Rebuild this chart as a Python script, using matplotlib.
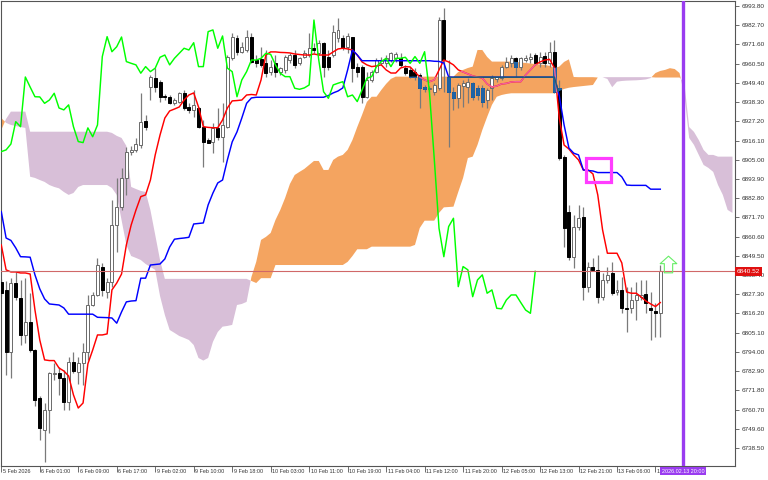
import numpy as np
import matplotlib
matplotlib.use("Agg")
import matplotlib.pyplot as plt
from matplotlib.patches import Rectangle
from matplotlib.path import Path

# ---------------- data (US500 H1, Ichimoku) ----------------
opens = [6834.6, 6829.8, 6794.0, 6834.0, 6825.2, 6803.8, 6811.5, 6795.1, 6767.4, 6748.9,
         6760.5, 6781.3, 6782.0, 6778.8, 6765.3, 6788.2, 6782.6, 6787.6, 6794.2, 6821.1,
         6826.9, 6843.3, 6828.8, 6834.6, 6867.3, 6877.9, 6894.5, 6909.7, 6910.7, 6913.6,
         6927.4, 6947.0, 6952.2, 6949.9, 6941.9, 6941.3, 6937.6, 6938.6, 6943.4, 6935.7,
         6933.8, 6934.9, 6924.1, 6916.4, 6915.5, 6923.4, 6918.3, 6924.1, 6963.6, 6975.2,
         6967.4, 6968.4, 6976.1, 6962.6, 6963.0, 6961.1, 6955.7, 6961.1, 6955.9, 6956.9,
         6962.6, 6965.5, 6960.7, 6964.6, 6965.5, 6969.4, 6966.9, 6972.6, 6964.6, 6965.5,
         6975.2, 6975.2, 6970.3, 6975.8, 6958.8, 6958.8, 6941.4, 6951.1, 6955.9, 6960.7,
         6960.7, 6962.6, 6963.6, 6963.6, 6957.9, 6956.9, 6955.9, 6954.0, 6946.9, 6945.9,
         6944.3, 6946.3, 6985.7, 6953.0, 6944.3, 6940.5, 6947.6, 6947.2, 6949.2, 6946.6,
         6946.3, 6939.5, 6946.3, 6951.7, 6952.1, 6958.8, 6960.7, 6963.6, 6958.8, 6962.6,
         6963.0, 6965.5, 6960.7, 6965.0, 6960.7, 6967.4, 6946.5, 6906.8, 6875.0, 6849.0,
         6866.4, 6872.1, 6831.7, 6843.3, 6841.4, 6825.9, 6835.6, 6839.4, 6828.8, 6829.8,
         6819.2, 6819.2, 6824.0, 6825.8, 6827.5, 6819.2, 6817.8, 6816.3]
highs = [6836.2, 6835.0, 6836.7, 6840.4, 6835.6, 6836.7, 6828.1, 6795.7, 6768.6, 6764.5,
         6782.6, 6787.6, 6785.5, 6783.6, 6791.3, 6794.0, 6791.3, 6799.2, 6826.9, 6828.8,
         6848.3, 6845.4, 6836.7, 6881.8, 6894.5, 6900.3, 6912.6, 6913.0, 6917.6, 6943.4,
         6930.9, 6954.0, 6958.0, 6951.1, 6943.0, 6942.4, 6940.7, 6944.3, 6945.3, 6937.6,
         6945.3, 6935.7, 6928.0, 6917.4, 6926.1, 6934.7, 6937.6, 6965.5, 6978.1, 6977.1,
         6973.2, 6980.0, 6978.1, 6965.5, 6970.3, 6968.4, 6962.6, 6965.5, 6958.8, 6965.5,
         6966.5, 6968.4, 6964.6, 6968.4, 6978.1, 6972.3, 6974.2, 6973.2, 6968.4, 6982.9,
         6986.7, 6977.1, 6978.1, 6976.1, 6960.7, 6959.8, 6955.9, 6956.9, 6963.6, 6964.6,
         6965.5, 6967.4, 6967.4, 6966.5, 6959.8, 6958.8, 6957.9, 6955.0, 6948.2, 6947.6,
         6949.2, 6987.7, 6992.5, 6962.6, 6947.2, 6949.2, 6951.1, 6952.1, 6950.1, 6948.2,
         6948.2, 6946.3, 6954.0, 6953.0, 6959.8, 6964.6, 6965.5, 6964.6, 6964.6, 6965.5,
         6966.5, 6966.5, 6967.3, 6967.4, 6973.2, 6974.2, 6951.1, 6907.8, 6878.9, 6873.1,
         6878.9, 6877.9, 6846.1, 6848.1, 6850.0, 6839.4, 6843.3, 6846.1, 6835.6, 6837.5,
         6831.7, 6831.7, 6834.6, 6835.6, 6835.6, 6828.8, 6822.1, 6844.2]
lows = [6826.3, 6780.7, 6779.0, 6824.0, 6798.0, 6799.2, 6794.0, 6762.8, 6743.2, 6730.5,
        6747.2, 6777.8, 6769.2, 6760.5, 6760.5, 6781.9, 6775.5, 6774.9, 6789.4, 6820.6,
        6826.3, 6826.3, 6825.2, 6831.5, 6851.9, 6876.0, 6884.7, 6907.8, 6909.5, 6911.8,
        6922.2, 6939.5, 6944.2, 6938.4, 6939.5, 6937.2, 6936.7, 6937.6, 6933.8, 6931.9,
        6929.9, 6923.4, 6901.0, 6914.5, 6908.8, 6916.4, 6903.9, 6923.4, 6962.6, 6965.5,
        6966.5, 6967.3, 6960.7, 6958.8, 6958.8, 6953.0, 6954.0, 6953.0, 6954.0, 6955.0,
        6960.7, 6957.9, 6959.8, 6963.6, 6964.6, 6966.5, 6965.5, 6953.0, 6956.9, 6964.6,
        6973.2, 6968.4, 6966.5, 6950.1, 6953.0, 6937.6, 6940.5, 6950.1, 6955.0, 6959.8,
        6958.8, 6961.7, 6961.7, 6958.8, 6954.0, 6952.1, 6951.1, 6934.7, 6944.3, 6944.2,
        6942.4, 6945.3, 6944.3, 6912.6, 6933.8, 6934.7, 6935.7, 6937.6, 6939.5, 6939.5,
        6935.7, 6934.7, 6939.5, 6949.9, 6951.1, 6957.9, 6958.8, 6953.0, 6956.9, 6961.5,
        6960.7, 6959.8, 6958.8, 6958.8, 6958.8, 6943.4, 6904.9, 6854.8, 6847.1, 6842.3,
        6864.5, 6824.0, 6828.8, 6840.8, 6822.1, 6824.0, 6833.8, 6826.9, 6826.9, 6816.3,
        6805.7, 6816.5, 6812.5, 6824.0, 6816.3, 6800.9, 6802.8, 6802.8]
closes = [6827.9, 6794.0, 6833.8, 6825.9, 6803.8, 6811.5, 6795.1, 6766.3, 6750.1, 6760.5,
          6781.9, 6782.0, 6778.8, 6765.3, 6788.4, 6783.0, 6787.6, 6794.2, 6821.1, 6826.9,
          6844.2, 6829.8, 6834.6, 6867.3, 6877.9, 6894.5, 6909.7, 6910.7, 6914.1, 6927.0,
          6924.1, 6952.8, 6947.0, 6941.4, 6941.3, 6937.6, 6939.5, 6943.4, 6934.9, 6933.8,
          6936.7, 6924.1, 6915.5, 6914.9, 6923.4, 6918.3, 6925.1, 6964.6, 6976.1, 6967.4,
          6970.3, 6975.9, 6961.7, 6960.7, 6959.8, 6955.0, 6958.8, 6955.9, 6957.9, 6964.2,
          6965.5, 6959.8, 6963.6, 6966.5, 6969.4, 6968.4, 6972.6, 6958.8, 6958.8, 6979.0,
          6980.0, 6969.4, 6976.5, 6957.9, 6955.9, 6941.4, 6951.1, 6955.9, 6962.6, 6962.6,
          6963.6, 6966.5, 6965.9, 6959.8, 6955.0, 6953.0, 6953.0, 6946.3, 6945.7, 6946.5,
          6948.2, 6985.7, 6962.6, 6944.3, 6940.5, 6948.2, 6949.2, 6950.1, 6941.4, 6942.4,
          6938.6, 6945.3, 6952.1, 6953.0, 6958.8, 6961.7, 6963.6, 6958.8, 6963.6, 6963.6,
          6964.2, 6960.7, 6964.6, 6960.7, 6967.4, 6944.3, 6905.9, 6865.4, 6849.0, 6866.4,
          6871.2, 6831.7, 6843.3, 6841.4, 6825.9, 6835.6, 6838.5, 6827.9, 6829.8, 6819.2,
          6818.9, 6824.0, 6826.9, 6826.9, 6822.5, 6818.2, 6816.3, 6840.52]

tenkan = [6855.8, 6841.4, 6840.2, 6840.2, 6839.6, 6839.6, 6839.0, 6818.2, 6800.9, 6789.4,
          6789.0, 6789.0, 6784.7, 6783.0, 6780.1, 6769.2, 6761.6, 6764.5, 6787.1, 6795.1,
          6803.8, 6803.8, 6804.4, 6829.8, 6833.8, 6839.0, 6855.8, 6867.3, 6876.0, 6883.7,
          6884.7, 6893.3, 6907.8, 6919.3, 6929.1, 6933.2, 6934.3, 6935.5, 6939.5, 6942.4,
          6943.6, 6935.5, 6924.1, 6923.7, 6923.5, 6923.5, 6928.0, 6934.9, 6939.0, 6939.2,
          6939.5, 6942.4, 6942.7, 6942.4, 6951.1, 6965.5, 6967.3, 6967.3, 6967.0, 6966.9,
          6966.7, 6966.1, 6965.8, 6965.5, 6965.5, 6966.1, 6965.5, 6965.5, 6965.5, 6967.3,
          6969.0, 6969.4, 6969.0, 6968.4, 6965.5, 6961.5, 6959.8, 6958.8, 6959.2, 6959.8,
          6956.9, 6955.1, 6955.1, 6958.0, 6958.8, 6958.6, 6955.7, 6952.8, 6951.1, 6950.1,
          6951.1, 6956.9, 6962.6, 6961.5, 6959.8, 6956.9, 6955.7, 6954.6, 6953.4, 6952.8,
          6952.2, 6948.8, 6947.0, 6947.6, 6948.8, 6949.1, 6949.9, 6950.1, 6950.1, 6954.0,
          6956.9, 6959.8, 6961.5, 6962.6, 6963.0, 6958.0, 6929.1, 6913.5, 6911.2, 6907.8,
          6904.9, 6899.1, 6899.1, 6896.8, 6884.7, 6864.5, 6851.0, 6851.0, 6851.0, 6845.4,
          6828.6, 6827.9, 6827.9, 6825.8, 6823.4, 6821.7, 6820.2, 6822.5]
kijun = [6875.0, 6859.8, 6858.4, 6854.1, 6849.0, 6848.9, 6848.7, 6838.5, 6830.4, 6824.6,
         6821.7, 6821.4, 6821.1, 6819.4, 6815.8, 6815.8, 6815.8, 6815.8, 6815.8, 6815.8,
         6814.0, 6813.9, 6813.8, 6813.6, 6810.6, 6817.1, 6822.9, 6823.4, 6823.6, 6836.6,
         6836.6, 6844.2, 6844.5, 6844.8, 6847.7, 6854.6, 6859.1, 6859.5, 6859.8, 6860.2,
         6867.9, 6868.2, 6868.5, 6878.9, 6885.8, 6891.6, 6893.3, 6904.9, 6915.3, 6921.1,
         6929.1, 6937.6, 6940.7, 6941.1, 6941.1, 6941.1, 6941.1, 6941.1, 6941.1, 6941.1,
         6941.1, 6941.1, 6941.1, 6941.1, 6941.1, 6941.1, 6941.1, 6941.1, 6942.1, 6943.6,
         6944.7, 6946.5, 6956.9, 6968.4, 6965.5, 6962.2, 6962.2, 6962.2, 6962.2, 6962.2,
         6962.2, 6962.2, 6962.2, 6962.2, 6962.2, 6962.2, 6962.2, 6962.2, 6962.2, 6962.2,
         6961.9, 6961.8, 6960.9, 6952.8, 6952.7, 6952.7, 6952.7, 6952.7, 6952.7, 6952.7,
         6952.7, 6952.7, 6952.7, 6952.7, 6952.7, 6952.7, 6952.7, 6952.7, 6952.7, 6952.7,
         6952.7, 6952.7, 6952.7, 6952.7, 6952.7, 6952.7, 6941.9, 6925.1, 6911.8, 6908.8,
         6907.8, 6899.1, 6898.8, 6898.5, 6897.6, 6897.6, 6897.6, 6897.6, 6897.6, 6895.1,
         6890.4, 6890.2, 6890.2, 6890.2, 6890.2, 6888.0, 6888.0, 6888.0]

span_a = [6929.1, 6926.3, 6925.1, 6924.5, 6923.9, 6923.4, 6895.2, 6894.5, 6893.3, 6892.2,
          6890.4, 6889.3, 6888.5, 6886.4, 6884.7, 6885.8, 6889.3, 6890.4, 6890.4, 6890.4,
          6890.4, 6890.4, 6890.4, 6888.7, 6884.7, 6870.2, 6855.8, 6849.4, 6848.3, 6847.1,
          6844.8, 6843.1, 6841.4, 6826.3, 6815.4, 6806.7, 6805.0, 6803.2, 6802.1, 6800.9,
          6798.0, 6790.5, 6789.0, 6790.5, 6799.8, 6805.5, 6808.6, 6809.0, 6809.6, 6821.1,
          6821.7, 6822.9, 6837.3, 6846.0, 6858.7, 6860.4, 6862.7, 6870.2, 6876.0, 6882.9,
          6891.0, 6896.2, 6898.0, 6899.7, 6902.0, 6904.3, 6904.3, 6899.1, 6899.1, 6904.9,
          6906.8, 6907.8, 6910.7, 6916.4, 6923.9, 6930.9, 6938.4, 6941.4, 6941.4, 6945.3,
          6948.8, 6951.7, 6953.0, 6953.0, 6953.0, 6953.0, 6953.0, 6953.0, 6953.0, 6953.0,
          6953.0, 6953.0, 6953.0, 6953.0, 6953.0, 6955.7, 6956.9, 6958.0, 6958.8, 6968.4,
          6968.4, 6964.4, 6961.7, 6961.7, 6961.7, 6961.7, 6961.7, 6961.5, 6961.2, 6960.9,
          6960.6, 6960.3, 6960.0, 6959.8, 6959.2, 6958.0, 6958.8, 6961.5, 6963.0, 6952.8,
          6952.7, 6952.7, 6952.7, 6952.7, 6952.5, 6952.6, 6951.7, 6946.9, 6950.1, 6950.5,
          6950.7, 6950.8, 6950.9, 6951.1, 6951.4, 6952.2, 6955.1, 6956.3, 6956.9, 6957.9,
          6957.4, 6955.1, 6942.4, 6917.6, 6913.6, 6907.8, 6902.0, 6900.3, 6898.0, 6890.4,
          6884.7, 6876.0, 6874.3]
span_b = [6922.2, 6928.6, 6932.8, 6932.8, 6932.8, 6932.8, 6921.2, 6921.2, 6921.2, 6921.2,
          6921.2, 6921.2, 6921.2, 6921.2, 6921.2, 6921.2, 6921.2, 6921.2, 6921.2, 6921.2,
          6921.2, 6921.2, 6921.2, 6920.5, 6918.8, 6917.6, 6913.0, 6889.3, 6888.1, 6887.0,
          6886.4, 6876.0, 6861.6, 6847.1, 6836.2, 6836.2, 6836.2, 6836.2, 6836.2, 6836.2,
          6836.2, 6836.2, 6836.2, 6836.2, 6836.2, 6836.2, 6836.2, 6836.2, 6836.2, 6836.2,
          6836.2, 6836.2, 6835.0, 6833.8, 6836.6, 6836.6, 6836.6, 6844.2, 6844.2, 6844.2,
          6844.2, 6844.2, 6844.2, 6844.2, 6844.2, 6844.2, 6844.2, 6844.2, 6844.2, 6844.2,
          6844.2, 6844.2, 6846.0, 6849.4, 6853.3, 6853.3, 6853.3, 6854.8, 6854.8, 6854.8,
          6854.8, 6854.8, 6854.8, 6854.8, 6854.8, 6854.8, 6855.8, 6865.6, 6869.8, 6869.8,
          6869.8, 6874.3, 6877.5, 6877.7, 6877.9, 6886.4, 6894.5, 6906.0, 6906.8, 6913.6,
          6922.2, 6929.7, 6936.7, 6941.4, 6942.4, 6943.0, 6943.4, 6943.4, 6943.4, 6943.4,
          6943.4, 6943.4, 6943.4, 6943.4, 6943.4, 6943.4, 6944.7, 6945.9, 6946.6, 6947.0,
          6947.3, 6947.6, 6947.9, 6948.2, 6952.5, 6952.6, 6952.7, 6952.7, 6952.7, 6952.7,
          6952.7, 6952.7, 6952.7, 6952.7, 6952.7, 6952.7, 6952.5, 6952.5, 6952.5, 6952.5,
          6952.5, 6952.5, 6949.4, 6923.9, 6921.1, 6916.4, 6910.7, 6907.8, 6907.8, 6906.8,
          6906.8, 6906.8, 6906.8]

chikou_shift = 26
bid_price = 6840.52
x_labels = ["5 Feb 2026", "6 Feb 01:00", "6 Feb 09:00", "6 Feb 17:00", "9 Feb 02:00",
            "9 Feb 10:00", "9 Feb 18:00", "10 Feb 03:00", "10 Feb 11:00", "10 Feb 19:00",
            "11 Feb 04:00", "11 Feb 12:00", "11 Feb 20:00", "12 Feb 05:00", "12 Feb 13:00",
            "12 Feb 21:00", "13 Feb 06:00", "13 Feb 14:00"]
x_label_step = 8
y_tick_top = 6993.80
y_tick_step = 11.10
y_tick_count = 24
vline_bar = 141.7
vline_label = "2026.02.13 20:00"
box_bars = (121.6, 126.8)
box_prices = (6892.2, 6906.0)
arrow_bar = 138.6
arrow_price = 6845.0

# ---------------- figure ----------------
W, H = 768, 480
fig = plt.figure(figsize=(W / 100, H / 100), dpi=100)
ax = fig.add_axes([1 / W, 14 / H, 734 / W, 465 / H])
ax.set_xlim(-0.06, 152.53)
ax.set_ylim(6728.1, 6996.7)

FONT = "Liberation Sans"

# cloud
xc = np.arange(len(span_a))
a = np.array(span_a)
b = np.array(span_b)
orange = ax.fill_between(xc, a, b, where=a >= b, interpolate=True, color="#f4a460", lw=0, zorder=1)
ax.fill_between(xc, a, b, where=a <= b, interpolate=True, color="#d8bfd8", lw=0, zorder=1)
orange_clip = Path.make_compound_path(*orange.get_paths())

# candles
o = np.array(opens); h = np.array(highs); l = np.array(lows); c = np.array(closes)
xi = np.arange(len(o))
ax.vlines(xi, l, h, color="#7a7a7a", lw=0.9, zorder=2)
up = c >= o
body_h = np.maximum(np.abs(c - o), 0.35)
body_b = np.minimum(o, c)
ax.bar(xi[up], body_h[up], bottom=body_b[up], width=0.62, color="white",
       edgecolor="#6a6a6a", lw=0.7, zorder=3)
ax.bar(xi[~up], body_h[~up], bottom=body_b[~up], width=0.62, color="black",
       edgecolor="black", lw=0.7, zorder=3)

# ichimoku lines
ax.plot(xi, tenkan, color="#ff0000", lw=1.05, zorder=4)
ax.plot(xi, kijun, color="#0000ff", lw=1.05, zorder=4)

# MetaTrader mixes the cloud colour with what lies under it
bb = ax.bar(xi[~up], body_h[~up], bottom=body_b[~up], width=0.62, color="#1f63a6",
            edgecolor="#1f63a6", lw=0.7, zorder=4.2)
for p in bb:
    p.set_clip_path(orange_clip, ax.transData)
t2, = ax.plot(xi, tenkan, color="#f0609e", lw=1.05, zorder=4.3)
k2, = ax.plot(xi, kijun, color="#1f5f70", lw=1.05, zorder=4.3)
t2.set_clip_path(orange_clip, ax.transData)
k2.set_clip_path(orange_clip, ax.transData)

ax.plot(xi[:len(c) - chikou_shift], c[chikou_shift:], color="#00ff00", lw=1.05, zorder=4.5)

# bid line
ax.axhline(bid_price, color="#d06868", lw=0.8, zorder=5)

# highlight box
ax.add_patch(Rectangle((box_bars[0], box_prices[0]), box_bars[1] - box_bars[0],
                       box_prices[1] - box_prices[0], fill=False, ec="#ff3dff", lw=2.3, zorder=6))

# up arrow (outline)
arrow = Path([(-0.25, -0.5), (-0.25, 0.05), (-0.5, 0.05), (0.0, 0.5), (0.5, 0.05),
              (0.25, 0.05), (0.25, -0.5), (-0.25, -0.5)],
             [Path.MOVETO] + [Path.LINETO] * 6 + [Path.CLOSEPOLY])
ax.plot([arrow_bar], [arrow_price], marker=arrow, ms=12, mfc="none", mec="#66ee66",
        mew=0.8, zorder=6, clip_on=False)

# vertical purple line
ax.axvline(vline_bar, color="#9a3cf0", lw=2.4, zorder=7)

# axes style
for s in ax.spines.values():
    s.set_color("#555555")
    s.set_linewidth(0.8)

yt = [y_tick_top - k * y_tick_step for k in range(y_tick_count)]
ax.yaxis.tick_right()
ax.set_yticks(yt)
ax.set_yticklabels([f"{v:.2f}" for v in yt], fontsize=4.6, family=FONT, color="#333333")
ax.tick_params(axis="y", length=3, width=0.6, color="#555555", pad=1.5)

xt = [k * x_label_step for k in range(len(x_labels))]
ax.set_xticks(xt)
ax.set_xticklabels([])
ax.tick_params(axis="x", length=4, width=0.6, color="#555555")
trans = ax.get_xaxis_transform()
for xv, lab in zip(xt, x_labels):
    ax.text(xv + 0.3, -0.0115, lab, transform=trans, ha="left", va="center",
            fontsize=3.9, family=FONT, color="#333333", clip_on=False)

# time label on the vertical line
ax.text(vline_bar, -0.0115, vline_label, transform=trans, ha="center", va="center",
        fontsize=3.9, family=FONT, color="white", clip_on=False, zorder=10,
        bbox=dict(boxstyle="square,pad=0.3", fc="#9a3cf0", ec="none"))

# price label
ax.text(1.002, bid_price, f"{bid_price:.2f}", transform=ax.get_yaxis_transform(),
        ha="left", va="center", fontsize=4.6, family=FONT, color="white",
        clip_on=False, zorder=10,
        bbox=dict(boxstyle="square,pad=0.3", fc="#e01010", ec="none"))

fig.savefig("out.png", dpi=100)
